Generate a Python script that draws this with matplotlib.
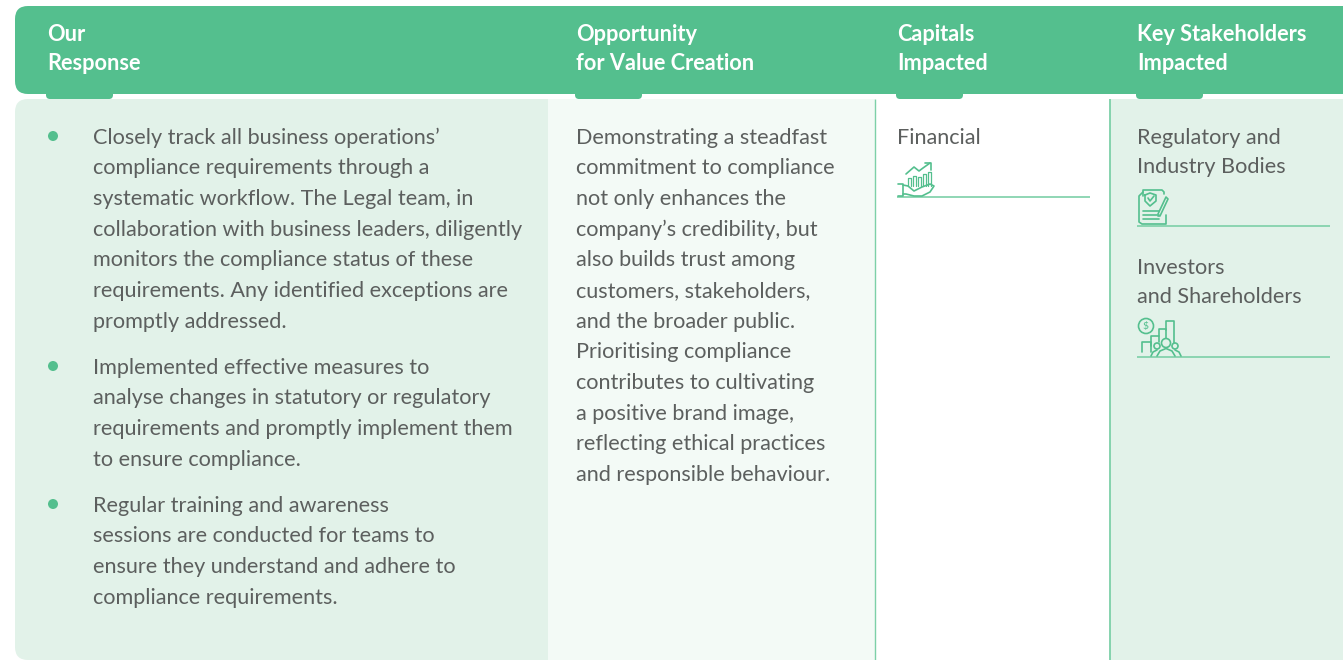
import matplotlib
matplotlib.use('Agg')
import matplotlib.pyplot as plt
from matplotlib.patches import FancyBboxPatch, Rectangle, Circle

W, H = 1343, 660
GREEN = '#54BF8E'
LINE = '#7DD0A8'
PALE = '#E2F2E9'
PALER = '#F3FAF6'
TEXT = '#5C5F5E'
plt.rcParams['font.family'] = ['Lato', 'DejaVu Sans']

headers = [['Our', 'Response'], ['Opportunity', 'for Value Creation'],
           ['Capitals', 'Impacted'], ['Key Stakeholders', 'Impacted']]
header_x = [47, 576, 897, 1137]

bullet_1 = ["Closely track all business operations’", "compliance requirements through a",
            "systematic workflow. The Legal team, in", "collaboration with business leaders, diligently",
            "monitors the compliance status of these", "requirements. Any identified exceptions are",
            "promptly addressed."]
bullet_2 = ["Implemented effective measures to", "analyse changes in statutory or regulatory",
            "requirements and promptly implement them", "to ensure compliance."]
bullet_3 = ["Regular training and awareness", "sessions are conducted for teams to",
            "ensure they understand and adhere to", "compliance requirements."]
bullet_y = [136, 366, 504]

opportunity = ["Demonstrating a steadfast", "commitment to compliance", "not only enhances the",
               "company’s credibility, but", "also builds trust among", "customers, stakeholders,",
               "and the broader public.", "Prioritising compliance", "contributes to cultivating",
               "a positive brand image,", "reflecting ethical practices", "and responsible behaviour."]
capitals = ["Financial"]
stake_1 = ["Regulatory and", "Industry Bodies"]
stake_2 = ["Investors", "and Shareholders"]

fig = plt.figure(figsize=(W / 100, H / 100), dpi=100)
ax = fig.add_axes([0, 0, 1, 1])
ax.set_xlim(0, W)
ax.set_ylim(H, 0)
ax.axis('off')


def lines(x, y, rows, step=30.7):
    for i, row in enumerate(rows):
        ax.text(x, y + 1.5 + i * step, row, color=TEXT, fontsize=15.6, va='center', ha='left')


def poly(xs, ys, lw=1.2):
    ax.plot(xs, ys, color=GREEN, lw=lw, solid_capstyle='round', solid_joinstyle='round', zorder=2.5)


def rule(xs, ys, lw=1.0):
    ax.plot(xs, ys, color=LINE, lw=lw, solid_capstyle='butt', zorder=2)


# panels
ax.add_patch(FancyBboxPatch((15, 99), 600, 561, boxstyle='round,pad=0,rounding_size=13',
                            fc=PALE, ec='none'))
ax.add_patch(Rectangle((548, 99), 327, 561, fc=PALER, ec='none', zorder=1.1))
ax.add_patch(Rectangle((875, 99), 235, 561, fc='white', ec='none', zorder=1.1))
ax.add_patch(Rectangle((1110, 99), 233, 561, fc=PALE, ec='none', zorder=1.1))
rule([874.5, 874.5], [99, 660])
rule([1110, 1110], [99, 660], lw=1.3)

# header bar and tabs
for x in header_x:
    ax.add_patch(FancyBboxPatch((x - 1, 84), 67, 15, boxstyle='round,pad=0,rounding_size=4',
                                fc=GREEN, ec='none', zorder=2))
ax.add_patch(FancyBboxPatch((15, 6), 1400, 88, boxstyle='round,pad=0,rounding_size=13',
                            fc=GREEN, ec='none', zorder=2.1))
for x, rows in zip(header_x, headers):
    for i, row in enumerate(rows):
        ax.text(x, 34.5 + i * 29, row, color='white', fontsize=15.7, fontweight='bold',
                va='center', ha='left', zorder=3)

# column text
for y, rows in zip(bullet_y, [bullet_1, bullet_2, bullet_3]):
    ax.add_patch(Circle((53, y), 5, fc=GREEN, ec='none', zorder=3))
    lines(93, y, rows)
lines(576, 136, opportunity)
lines(897, 136, capitals)
lines(1137, 136, stake_1, step=29.5)
lines(1137, 266, stake_2, step=29.5)

# rules under the icons
rule([897, 1090], [196.5, 196.5], lw=1.2)
rule([1137, 1330], [226, 226], lw=1.2)
rule([1137, 1330], [356.5, 356.5], lw=1.2)

# financial icon: hand, bars, arrow
poly([898, 903, 903, 898], [184, 184, 196, 196])
poly([903, 908, 914, 922, 930, 934, 930, 922, 914, 906, 903],
     [185, 186, 191, 187, 184, 186, 192, 196, 196, 194, 194])
for bx, top in zip([908, 913, 918, 923, 928], [178, 176, 177, 174, 172]):
    poly([bx, bx, bx + 3, bx + 3], [186, top, top, 186], lw=0.9)
poly([906, 914, 919, 923, 930], [174, 167, 171, 168, 163])
poly([925, 931, 931], [163, 163, 170])

# regulatory icon: document, shield, pencil
poly([1143, 1139, 1139, 1142, 1166, 1166], [192, 196, 222, 224, 224, 215])
poly([1143, 1143, 1162, 1164, 1164], [196, 190, 190, 192, 194])
poly([1145, 1150, 1156, 1156, 1150, 1145, 1145], [195, 193, 195, 201, 206, 201, 195])
poly([1148, 1150, 1154], [198, 201, 196])
for ly in [211, 215, 219]:
    poly([1143, 1159], [ly, ly])
poly([1158, 1166, 1168, 1160, 1158], [214, 197, 199, 216, 216])

# investors icon: coin, bars, people
ax.add_patch(Circle((1146, 326), 7.5, fc='none', ec=GREEN, lw=1.2, zorder=3))
ax.text(1146, 326, '$', color=GREEN, fontsize=7.5, ha='center', va='center', zorder=3)
poly([1142, 1142, 1151, 1151], [352, 342, 342, 352])
poly([1151, 1151, 1159, 1159], [346, 336, 336, 342])
poly([1159, 1159, 1166, 1166], [336, 329, 329, 342])
poly([1166, 1166, 1174, 1174], [330, 321, 321, 343])
ax.add_patch(Circle((1166, 343), 4.5, fc=PALE, ec=GREEN, lw=1.2, zorder=3))
ax.add_patch(Circle((1157, 346), 3, fc=PALE, ec=GREEN, lw=1.2, zorder=3))
ax.add_patch(Circle((1175, 346), 3, fc=PALE, ec=GREEN, lw=1.2, zorder=3))
poly([1157, 1160, 1166, 1172, 1175], [356, 351, 348.5, 351, 356])
poly([1151, 1153, 1157], [356, 352, 350])
poly([1175, 1179, 1181], [350, 352, 356])

fig.savefig('out.png', dpi=100)
